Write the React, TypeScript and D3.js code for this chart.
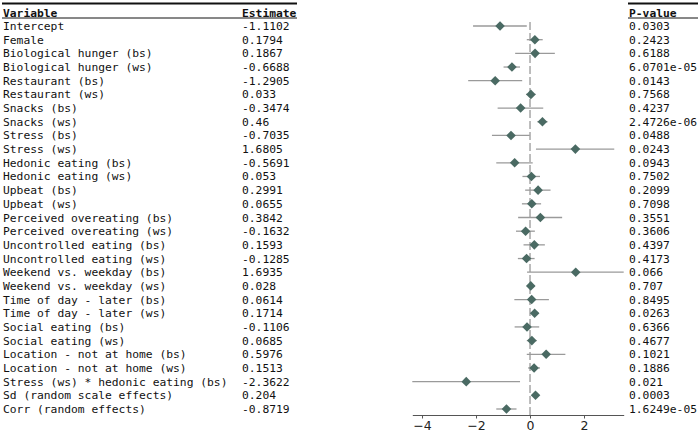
import React, { useRef, useEffect } from 'react';
import * as d3 from 'd3';

const variables = [
  'Intercept',
  'Female',
  'Biological hunger (bs)',
  'Biological hunger (ws)',
  'Restaurant (bs)',
  'Restaurant (ws)',
  'Snacks (bs)',
  'Snacks (ws)',
  'Stress (bs)',
  'Stress (ws)',
  'Hedonic eating (bs)',
  'Hedonic eating (ws)',
  'Upbeat (bs)',
  'Upbeat (ws)',
  'Perceived overeating (bs)',
  'Perceived overeating (ws)',
  'Uncontrolled eating (bs)',
  'Uncontrolled eating (ws)',
  'Weekend vs. weekday (bs)',
  'Weekend vs. weekday (ws)',
  'Time of day - later (bs)',
  'Time of day - later (ws)',
  'Social eating (bs)',
  'Social eating (ws)',
  'Location - not at home (bs)',
  'Location - not at home (ws)',
  'Stress (ws) * hedonic eating (bs)',
  'Sd (random scale effects)',
  'Corr (random effects)',
];

const estimates = [
  -1.1102, 0.1794, 0.1867, -0.6688, -1.2905, 0.033, -0.3474, 0.46, -0.7035, 1.6805,
  -0.5691, 0.053, 0.2991, 0.0655, 0.3842, -0.1632, 0.1593, -0.1285, 1.6935, 0.028,
  0.0614, 0.1714, -0.1106, 0.0685, 0.5976, 0.1513, -2.3622, 0.204, -0.8719,
];

// 95% confidence bounds
const lower = [
  -2.11, -0.12, -0.55, -0.98, -2.29, -0.15, -1.2, 0.27, -1.41, 0.22,
  -1.25, -0.28, -0.18, -0.3, -0.44, -0.52, -0.24, -0.45, -0.11, -0.12,
  -0.58, 0.02, -0.57, -0.12, -0.12, -0.07, -4.36, 0.09, -1.25,
];

const upper = [
  -0.12, 0.47, 0.92, -0.37, -0.29, 0.21, 0.49, 0.65, -0.01, 3.12,
  0.1, 0.37, 0.76, 0.41, 1.19, 0.18, 0.55, 0.17, 3.47, 0.17,
  0.7, 0.32, 0.34, 0.25, 1.31, 0.37, -0.37, 0.32, -0.5,
];

const pValues = [
  '0.0303', '0.2423', '0.6188', '6.0701e-05', '0.0143', '0.7568', '0.4237', '2.4726e-06',
  '0.0488', '0.0243', '0.0943', '0.7502', '0.2099', '0.7098', '0.3551', '0.3606',
  '0.4397', '0.4173', '0.066', '0.707', '0.8495', '0.0263', '0.6366', '0.4677',
  '0.1021', '0.1886', '0.021', '0.0003', '1.6249e-05',
];

const xTicks = [-4, -2, 0, 2];

function ForestPlot() {
  const ref = useRef<HTMLDivElement>(null);

  useEffect(() => {
    const width = 700;
    const height = 438;
    const mono = "'DejaVu Sans Mono', monospace";
    const fontSize = 11.3;

    d3.select(ref.current).selectAll('*').remove();

    const svg = d3.select(ref.current)
      .append('svg')
      .attr('width', width)
      .attr('height', height)
      .style('display', 'block');

    const rows = variables.map((v, i) => ({
      name: v,
      est: estimates[i],
      lo: lower[i],
      hi: upper[i],
      p: pValues[i],
    }));

    const y = d3.scalePoint<string>()
      .domain(variables)
      .range([26, 409]);

    const x = d3.scaleLinear()
      .domain([d3.min(lower) as number, d3.max(upper) as number])
      .range([412.3, 623.7]);

    // table on the left: variable names and estimates
    const table = svg.append('g')
      .attr('font-family', mono)
      .attr('font-size', fontSize)
      .attr('fill', '#111');

    table.append('line')
      .attr('x1', 2).attr('x2', 297)
      .attr('y1', 3.5).attr('y2', 3.5)
      .attr('stroke', '#111').attr('stroke-width', 2);
    table.append('line')
      .attr('x1', 2).attr('x2', 297)
      .attr('y1', 18).attr('y2', 18)
      .attr('stroke', '#111').attr('stroke-width', 1);
    table.append('text').attr('x', 3).attr('y', 16.5)
      .attr('font-weight', 'bold').text('Variable');
    table.append('text').attr('x', 242).attr('y', 16.5)
      .attr('font-weight', 'bold').text('Estimate');

    table.selectAll('text.name')
      .data(rows)
      .join('text')
      .attr('class', 'name')
      .attr('x', 3)
      .attr('y', d => (y(d.name) as number) + 4)
      .text(d => d.name);

    table.selectAll('text.est')
      .data(rows)
      .join('text')
      .attr('class', 'est')
      .attr('x', 242)
      .attr('y', d => (y(d.name) as number) + 4)
      .text(d => String(d.est));

    // p-value column on the right
    const pcol = svg.append('g')
      .attr('font-family', mono)
      .attr('font-size', fontSize)
      .attr('fill', '#111');

    pcol.append('line')
      .attr('x1', 628).attr('x2', 698)
      .attr('y1', 3.5).attr('y2', 3.5)
      .attr('stroke', '#111').attr('stroke-width', 2);
    pcol.append('line')
      .attr('x1', 628).attr('x2', 698)
      .attr('y1', 18).attr('y2', 18)
      .attr('stroke', '#111').attr('stroke-width', 1);
    pcol.append('text').attr('x', 629).attr('y', 16.5)
      .attr('font-weight', 'bold').text('P-value');

    pcol.selectAll('text.p')
      .data(rows)
      .join('text')
      .attr('class', 'p')
      .attr('x', 629)
      .attr('y', d => (y(d.name) as number) + 4)
      .text(d => d.p);

    // reference line at zero
    svg.append('line')
      .attr('x1', x(0)).attr('x2', x(0))
      .attr('y1', 22).attr('y2', 415)
      .attr('stroke', '#9a9a9a')
      .attr('stroke-width', 1.3)
      .attr('stroke-dasharray', '8,3');

    // confidence intervals
    svg.append('g')
      .selectAll('line')
      .data(rows)
      .join('line')
      .attr('x1', d => x(d.lo))
      .attr('x2', d => x(d.hi))
      .attr('y1', d => y(d.name) as number)
      .attr('y2', d => y(d.name) as number)
      .attr('stroke', '#9a9a9a')
      .attr('stroke-width', 1.3);

    // point estimates
    const r = 4.8;
    svg.append('g')
      .selectAll('path')
      .data(rows)
      .join('path')
      .attr('transform', d => `translate(${x(d.est)},${y(d.name)})`)
      .attr('d', `M0,${-r}L${r},0L0,${r}L${-r},0Z`)
      .attr('fill', '#4a6a63');

    // x axis
    const axis = svg.append('g')
      .attr('transform', 'translate(0,415)')
      .call(d3.axisBottom(x)
        .tickValues(xTicks)
        .tickSize(3.5)
        .tickPadding(3)
        .tickSizeOuter(0)
        .tickFormat(d => d3.format('d')(d as number).replace('-', '\u2212')));

    axis.select('.domain').attr('stroke', '#555').attr('stroke-width', 1);
    axis.selectAll('.tick line').attr('stroke', '#555');
    axis.selectAll('.tick text')
      .attr('fill', '#222')
      .attr('font-family', "'DejaVu Sans', sans-serif")
      .attr('font-size', 12.5);
  }, []);

  return (
    <div ref={ref} style={{ position: 'absolute', left: 0, top: 0 }}></div>
  );
}

export default function App() {
  return <ForestPlot />;
}
